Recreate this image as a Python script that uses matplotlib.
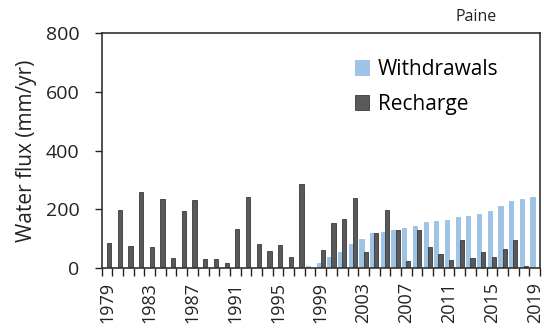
import matplotlib
matplotlib.use("Agg")
import matplotlib.pyplot as plt
import numpy as np

plt.rcParams['font.family'] = ['Open Sans', 'DejaVu Sans']

years = list(range(1979, 2020))
withdrawals = [0, 0, 0, 0, 0, 0, 0, 0, 0, 0,
               0, 0, 0, 0, 0, 0, 0, 0, 0, 7, 18,
               36, 53, 82, 100, 118, 121, 130, 137, 144, 158,
               161, 164, 173, 178, 183, 195, 212, 228, 234, 241]
recharge = [84, 197, 74, 260, 70, 235, 34, 193, 230, 30,
            30, 18, 133, 242, 83, 58, 78, 36, 286, 0, 62,
            153, 167, 237, 54, 118, 196, 130, 24, 129, 70,
            47, 28, 97, 35, 53, 37, 65, 97, 7, 0]
tick_labels = [str(y) for y in years[::4]]

fig = plt.figure(figsize=(5.44, 3.29), dpi=100)
ax = fig.add_axes([0.1868, 0.1854, 0.8058, 0.7143])

x = np.arange(len(years))
w = 0.39
ax.bar(x - w / 2, withdrawals, width=w, color='#9dc3e6', edgecolor='#8fb8de',
       linewidth=0.5, label='Withdrawals')
ax.bar(x + w / 2, recharge, width=w, color='#595959', edgecolor='#3a3a3a',
       linewidth=0.6, label='Recharge')

ax.set_xlim(-0.5, len(years) - 0.5)
ax.set_ylim(0, 800)
ax.set_yticks([0, 200, 400, 600, 800])
ax.tick_params(axis='y', direction='out', length=5, width=1, labelsize=14,
               pad=11, colors='#222222')

# boundary ticks between years, labels every fourth year
ax.set_xticks(np.arange(-0.5, len(years), 1.0))
ax.set_xticklabels([])
ax.set_xticks(x[::4], minor=True)
ax.set_xticklabels(tick_labels, minor=True, rotation=90)
ax.tick_params(axis='x', which='major', direction='out', length=6, width=1,
               color='#222222')
ax.tick_params(axis='x', which='minor', length=0, labelsize=13, pad=10,
               colors='#222222')

for s in ax.spines.values():
    s.set_color('#333333')
    s.set_linewidth(1.2)

ax.set_ylabel('Water flux (mm/yr)', fontsize=15, labelpad=6, color='#222222')

ax.legend(loc='upper left', bbox_to_anchor=(0.554, 0.935), frameon=False,
          fontsize=15, handlelength=0.7, handleheight=0.7,
          handletextpad=0.4, labelspacing=0.68, borderpad=0)

fig.text(0.876, 0.925, 'Paine', fontsize=11.5, color='#222222', ha='center',
         va='bottom')

fig.savefig('out.png', dpi=100)
